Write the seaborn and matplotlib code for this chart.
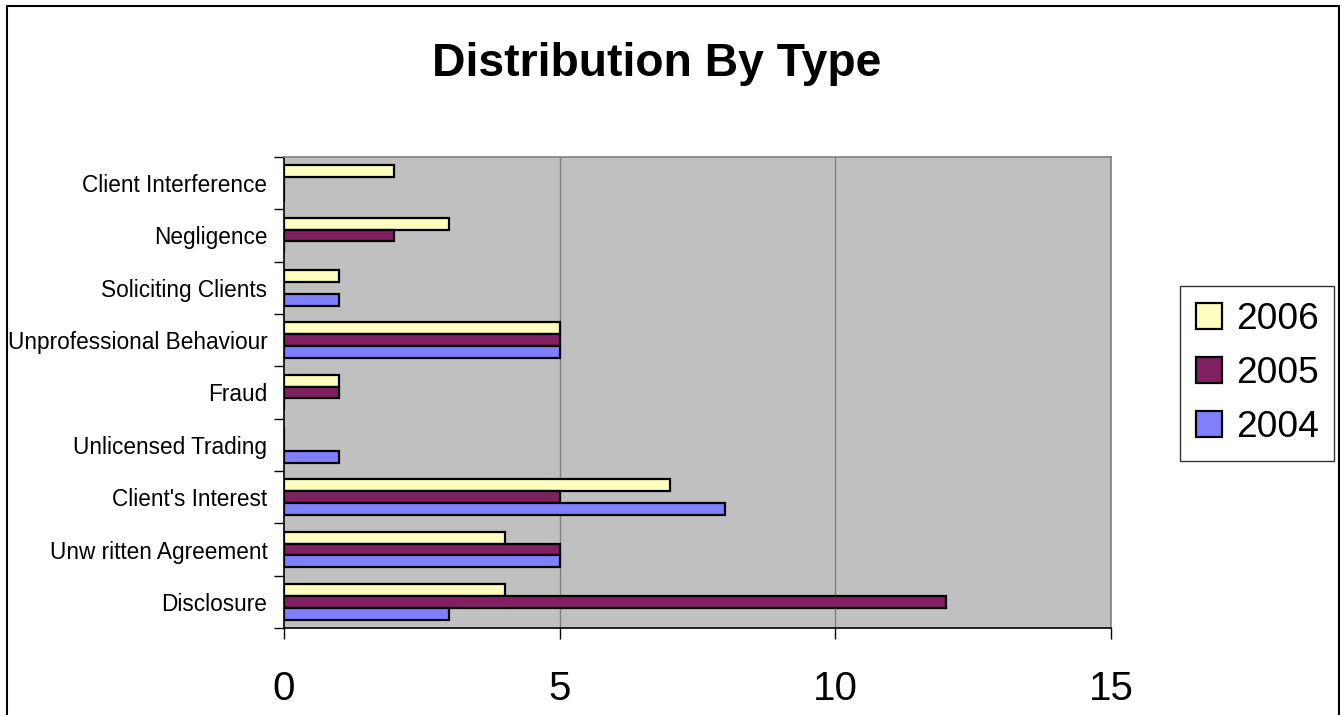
import matplotlib
matplotlib.use("Agg")
import matplotlib.pyplot as plt
import matplotlib.patches as mpatches
from matplotlib.lines import Line2D
import numpy as np
import pandas as pd
import seaborn as sns

# Complaint counts by type, per year
categories = [
    "Client Interference",
    "Negligence",
    "Soliciting Clients",
    "Unprofessional Behaviour",
    "Fraud",
    "Unlicensed Trading",
    "Client's Interest",
    "Unw ritten Agreement",
    "Disclosure",
]
years = ["2006", "2005", "2004"]
counts_2006 = [2, 3, 1, 5, 1, 0, 7, 4, 4]
counts_2005 = [0, 2, 0, 5, 1, 0, 5, 5, 12]
counts_2004 = [0, 0, 1, 5, 0, 1, 8, 5, 3]
x_ticks = [0, 5, 10, 15]

colors = {"2006": "#FFFFC0", "2005": "#802060", "2004": "#8080FF"}

df = pd.DataFrame({
    "Type": categories * 3,
    "Year": ["2006"] * 9 + ["2005"] * 9 + ["2004"] * 9,
    "Count": counts_2006 + counts_2005 + counts_2004,
})

sns.set_theme(style="white")
plt.rcParams["font.family"] = ["Liberation Sans", "DejaVu Sans"]
plt.rcParams["text.color"] = "black"
plt.rcParams["xtick.color"] = "black"
plt.rcParams["ytick.color"] = "black"
plt.rcParams["axes.labelcolor"] = "black"

fig = plt.figure(figsize=(13.4, 7.15), dpi=100)
ax = fig.add_axes([284 / 1340, 1 - 628 / 715, (1111 - 284) / 1340, (628 - 157) / 715])

sns.barplot(
    data=df, y="Type", x="Count", hue="Year",
    order=categories, hue_order=years, palette=colors,
    orient="h", width=0.68, edgecolor="black", linewidth=1.6,
    saturation=1, ax=ax, legend=False,
)

ax.set_facecolor("#C0C0C0")
ax.set_xlim(0, 15)
ax.set_ylim(len(categories) - 0.5, -0.5)
ax.set_xlabel("")
ax.set_ylabel("")

# vertical gridlines
for v in x_ticks[1:-1]:
    ax.axvline(v, color="#808080", lw=1.0, zorder=0.5)
ax.set_axisbelow(True)

for side in ["top", "right"]:
    ax.spines[side].set_color("#808080")
    ax.spines[side].set_linewidth(1.2)
for side in ["left", "bottom"]:
    ax.spines[side].set_color("black")
    ax.spines[side].set_linewidth(1.2)

ax.set_xticks(x_ticks)
ax.set_xticklabels([str(t) for t in x_ticks], fontsize=29, color="black")
ax.tick_params(axis="x", direction="out", length=8, width=1, color="black",
               pad=22, bottom=True)

ax.set_yticks(range(len(categories)))
ax.set_yticklabels(categories, fontsize=16.3, color="black")
ax.tick_params(axis="y", which="major", length=0, pad=12, left=True)
ax.set_yticks(np.arange(-0.5, len(categories), 1.0), minor=True)
ax.tick_params(axis="y", which="minor", direction="out", length=7, width=1,
               color="black", left=True)

fig.text(657 / 1340, 1 - 64 / 715, "Distribution By Type", ha="center", va="center",
         fontsize=33.3, fontweight="bold", color="black")

handles = [mpatches.Patch(facecolor=colors[y], edgecolor="black", linewidth=1.6, label=y)
           for y in years]
leg = fig.legend(
    handles=handles, loc="upper left",
    bbox_to_anchor=(1180 / 1340, 1 - 286 / 715),
    fontsize=26.7, frameon=True, fancybox=False,
    handlelength=0.7, handleheight=0.7, handletextpad=0.38,
    labelspacing=0.52, borderpad=0.42, borderaxespad=0,
)
for t in leg.get_texts():
    t.set_color("black")
leg.get_frame().set_edgecolor("black")
leg.get_frame().set_linewidth(1.0)

# outer chart border
fig.add_artist(Line2D([7 / 1340, 7 / 1340], [0, 1 - 6 / 715], transform=fig.transFigure,
                      color="black", lw=1.5))
fig.add_artist(Line2D([7 / 1340, 1338.5 / 1340], [1 - 6 / 715, 1 - 6 / 715],
                      transform=fig.transFigure, color="black", lw=1.5))
fig.add_artist(Line2D([1338.5 / 1340, 1338.5 / 1340], [0, 1 - 6 / 715],
                      transform=fig.transFigure, color="black", lw=1.5))

fig.savefig("out.png", dpi=100, facecolor="white")
